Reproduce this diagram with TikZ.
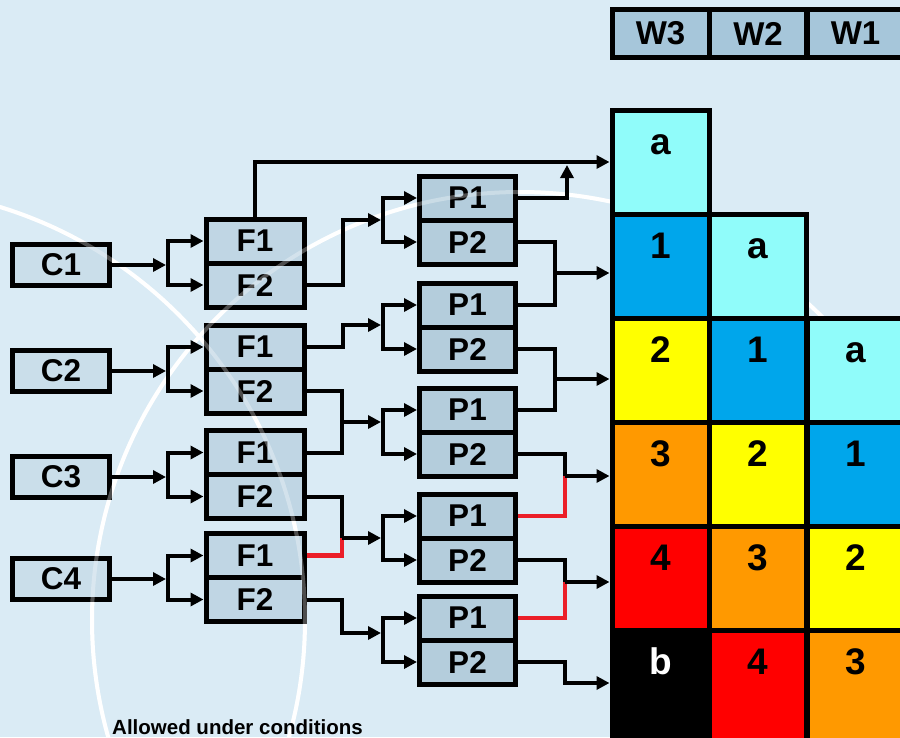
\documentclass[tikz,border=0pt]{standalone}
\usepackage{fontspec}
\setmainfont{Liberation Sans}
\usetikzlibrary{arrows.meta}
\definecolor{bgc}{RGB}{218,235,245}
\definecolor{cfill}{RGB}{202,222,234}
\definecolor{ffill}{RGB}{192,214,228}
\definecolor{pfill}{RGB}{180,205,220}
\definecolor{wfill}{RGB}{166,198,218}
\definecolor{cyanc}{RGB}{144,252,250}
\definecolor{bluec}{RGB}{0,166,235}
\definecolor{yelc}{RGB}{255,255,0}
\definecolor{orac}{RGB}{255,153,0}
\definecolor{redc}{RGB}{255,0,0}
\definecolor{redline}{RGB}{235,30,40}
\begin{document}
\begin{tikzpicture}[x=1pt,y=-1pt,
  lbl/.style={font=\fontsize{31.5}{32}\selectfont\bfseries},
  boxbase/.style={draw=black, line width=5pt, inner sep=0pt, lbl},
  cbox/.style={boxbase, fill=cfill, minimum width=97pt, minimum height=41pt},
  fbox/.style={boxbase, fill=ffill, minimum width=98pt, minimum height=44pt},
  pbox/.style={boxbase, fill=pfill, minimum width=96pt, minimum height=44pt},
  wbox/.style={draw=black, line width=5pt, inner sep=0pt, fill=wfill, minimum width=97pt, minimum height=48pt, font=\fontsize{33}{33}\selectfont\bfseries},
  cellbox/.style={draw=black, line width=5pt, inner sep=0pt, minimum width=97pt, minimum height=104pt},
  lastcell/.style={cellbox, minimum height=120pt},
  celltxt/.style={anchor=base, inner sep=0pt, font=\fontsize{37}{37}\selectfont\bfseries},
  conn/.style={line width=4pt, draw=black},
  arr/.style={conn, -{Triangle[length=13pt,width=13pt]}},
  darr/.style={conn, {Triangle[length=13pt,width=13pt]}-{Triangle[length=13pt,width=13pt]}},
  redl/.style={line width=4.5pt, draw=redline},
  whitearc/.style={draw=white, line width=4pt},
]
\fill[bgc] (0,0) rectangle (900,737);
\useasboundingbox (0,0) rectangle (900,737);
\begin{scope}
  \clip (0,0) rectangle (900,737);
  \draw[whitearc] (520,620) circle[radius=428pt];
  \draw[whitearc] (-127,620) circle[radius=432pt];
\end{scope}

% header
\node[wbox] (W3) at (660.5,33.5) {W3};
\node[wbox] (W2) at (758,33.5) {W2};
\node[wbox] (W1) at (855.5,33.5) {W1};

% grid cells
\node[cellbox, fill=cyanc] (R00) at (660.5,162) {};
\node[cellbox, fill=bluec] (R10) at (660.5,266) {};
\node[cellbox, fill=cyanc] (R11) at (758,266) {};
\node[cellbox, fill=yelc] (R20) at (660.5,370) {};
\node[cellbox, fill=bluec] (R21) at (758,370) {};
\node[cellbox, fill=cyanc] (R22) at (855.5,370) {};
\node[cellbox, fill=orac] (R30) at (660.5,474) {};
\node[cellbox, fill=yelc] (R31) at (758,474) {};
\node[cellbox, fill=bluec] (R32) at (855.5,474) {};
\node[cellbox, fill=redc] (R40) at (660.5,578) {};
\node[cellbox, fill=orac] (R41) at (758,578) {};
\node[cellbox, fill=yelc] (R42) at (855.5,578) {};
\node[lastcell, fill=black] (R50) at (660.5,690) {};
\node[lastcell, fill=redc] (R51) at (758,690) {};
\node[lastcell, fill=orac] (R52) at (855.5,690) {};

\node[celltxt] (T00) at ([yshift=-47pt]R00.north) {a};
\node[celltxt] (T10) at ([yshift=-47pt]R10.north) {1};
\node[celltxt] (T11) at ([yshift=-47pt]R11.north) {a};
\node[celltxt] (T20) at ([yshift=-47pt]R20.north) {2};
\node[celltxt] (T21) at ([yshift=-47pt]R21.north) {1};
\node[celltxt] (T22) at ([yshift=-47pt]R22.north) {a};
\node[celltxt] (T30) at ([yshift=-47pt]R30.north) {3};
\node[celltxt] (T31) at ([yshift=-47pt]R31.north) {2};
\node[celltxt] (T32) at ([yshift=-47pt]R32.north) {1};
\node[celltxt] (T40) at ([yshift=-47pt]R40.north) {4};
\node[celltxt] (T41) at ([yshift=-47pt]R41.north) {3};
\node[celltxt] (T42) at ([yshift=-47pt]R42.north) {2};
\node[celltxt, text=white] (T50) at ([yshift=-47pt]R50.north) {b};
\node[celltxt] (T51) at ([yshift=-47pt]R51.north) {4};
\node[celltxt] (T52) at ([yshift=-47pt]R52.north) {3};

% C boxes
\node[cbox] (C1) at (61,265) {C1};
\node[cbox] (C2) at (61,371) {C2};
\node[cbox] (C3) at (61,477) {C3};
\node[cbox] (C4) at (61,579) {C4};

% F boxes
\node[fbox] (F11) at (255,241) {F1};
\node[fbox] (F12) at (255,285) {F2};
\node[fbox] (F21) at (255,347) {F1};
\node[fbox] (F22) at (255,391) {F2};
\node[fbox] (F31) at (255,452.5) {F1};
\node[fbox] (F32) at (255,496.5) {F2};
\node[fbox] (F41) at (255,555.5) {F1};
\node[fbox] (F42) at (255,599.5) {F2};

% P boxes
\node[pbox] (P11) at (467.5,198) {P1};
\node[pbox] (P12) at (467.5,242) {P2};
\node[pbox] (P21) at (467.5,305) {P1};
\node[pbox] (P22) at (467.5,349) {P2};
\node[pbox] (P31) at (467.5,410) {P1};
\node[pbox] (P32) at (467.5,454) {P2};
\node[pbox] (P41) at (467.5,516) {P1};
\node[pbox] (P42) at (467.5,560) {P2};
\node[pbox] (P51) at (467.5,618) {P1};
\node[pbox] (P52) at (467.5,662) {P2};

% faint overlay of the decorative arcs
\begin{scope}
  \clip (0,0) rectangle (605,737);
  \draw[whitearc, opacity=0.3] (520,620) circle[radius=428pt];
  \draw[whitearc, opacity=0.3] (-127,620) circle[radius=432pt];
\end{scope}

% C -> F forks
\coordinate (kc1) at (168,265);
\coordinate (kc2) at (168,371);
\coordinate (kc3) at (168,477);
\coordinate (kc4) at (168,579);
\draw[arr, shorten >=2pt] (C1.east) -- (kc1);
\draw[arr, shorten >=2pt] (C2.east) -- (kc2);
\draw[arr, shorten >=2pt] (C3.east) -- (kc3);
\draw[arr, shorten >=2pt] (C4.east) -- (kc4);
\draw[darr] (F11.west) -- (kc1 |- F11.west) -- (kc1 |- F12.west) -- (F12.west);
\draw[darr] (F21.west) -- (kc2 |- F21.west) -- (kc2 |- F22.west) -- (F22.west);
\draw[darr] (F31.west) -- (kc3 |- F31.west) -- (kc3 |- F32.west) -- (F32.west);
\draw[darr] (F41.west) -- (kc4 |- F41.west) -- (kc4 |- F42.west) -- (F42.west);

% P forks
\coordinate (kp1) at (383,220);
\coordinate (kp2) at (383,327);
\coordinate (kp3) at (383,432);
\coordinate (kp4) at (383,538);
\coordinate (kp5) at (383,640);
\draw[darr] (P11.west) -- (kp1 |- P11.west) -- (kp1 |- P12.west) -- (P12.west);
\draw[darr] (P21.west) -- (kp2 |- P21.west) -- (kp2 |- P22.west) -- (P22.west);
\draw[darr] (P31.west) -- (kp3 |- P31.west) -- (kp3 |- P32.west) -- (P32.west);
\draw[darr] (P41.west) -- (kp4 |- P41.west) -- (kp4 |- P42.west) -- (P42.west);
\draw[darr] (P51.west) -- (kp5 |- P51.west) -- (kp5 |- P52.west) -- (P52.west);

% F -> P
\coordinate (a1) at (343,220);
\coordinate (a2) at (343,325);
\coordinate (a3) at (342,422);
\coordinate (a4) at (342,538);
\coordinate (a5) at (342,633);
\draw[arr, shorten >=2pt] (F12.east) -| (a1) -- (kp1);
\draw[arr, shorten >=2pt] (F21.east) -| (a2) -- (kp2 |- a2);
\draw[conn] (F22.east) -| (a3);
\draw[conn] (F31.east) -| (a3);
\draw[arr, shorten >=2pt] (a3) -- (kp3 |- a3);
\draw[redl] (F41.east) -| (a4);
\draw[conn] (F32.east) -| (a4);
\draw[arr, shorten >=2pt] (a4) -- (kp4);
\draw[arr, shorten >=2pt] (F42.east) -| (a5) -- (kp5 |- a5);

% F1 top line to row 0
\draw[arr] (F11.north) |- (R00.west);

% P -> grid
\coordinate (t0) at (567,165);
\draw[arr] (P11.east) -| (t0);
\coordinate (j1) at (555,273);
\coordinate (j2) at (555,379);
\coordinate (j3) at (565,476);
\coordinate (j4) at (565,582);
\coordinate (j5) at (565,683);
\draw[conn] (P12.east) -| (j1);
\draw[conn] (P21.east) -| (j1);
\draw[arr] (j1) -- (j1 -| R10.west);
\draw[conn] (P22.east) -| (j2);
\draw[conn] (P31.east) -| (j2);
\draw[arr] (j2) -- (j2 -| R20.west);
\draw[redl] (P41.east) -| (j3);
\draw[conn] (P32.east) -| (j3);
\draw[arr] (j3) -- (j3 -| R30.west);
\draw[redl] (P51.east) -| (j4);
\draw[conn] (P42.east) -| (j4);
\draw[arr] (j4) -- (j4 -| R40.west);
\draw[arr] (P52.east) -| (j5) -- (j5 -| R50.west);

% note
\node[anchor=base west, inner sep=0pt, font=\fontsize{20.5}{24}\selectfont\bfseries] (note) at (112,734) {Allowed under conditions};
\end{tikzpicture}
\end{document}
